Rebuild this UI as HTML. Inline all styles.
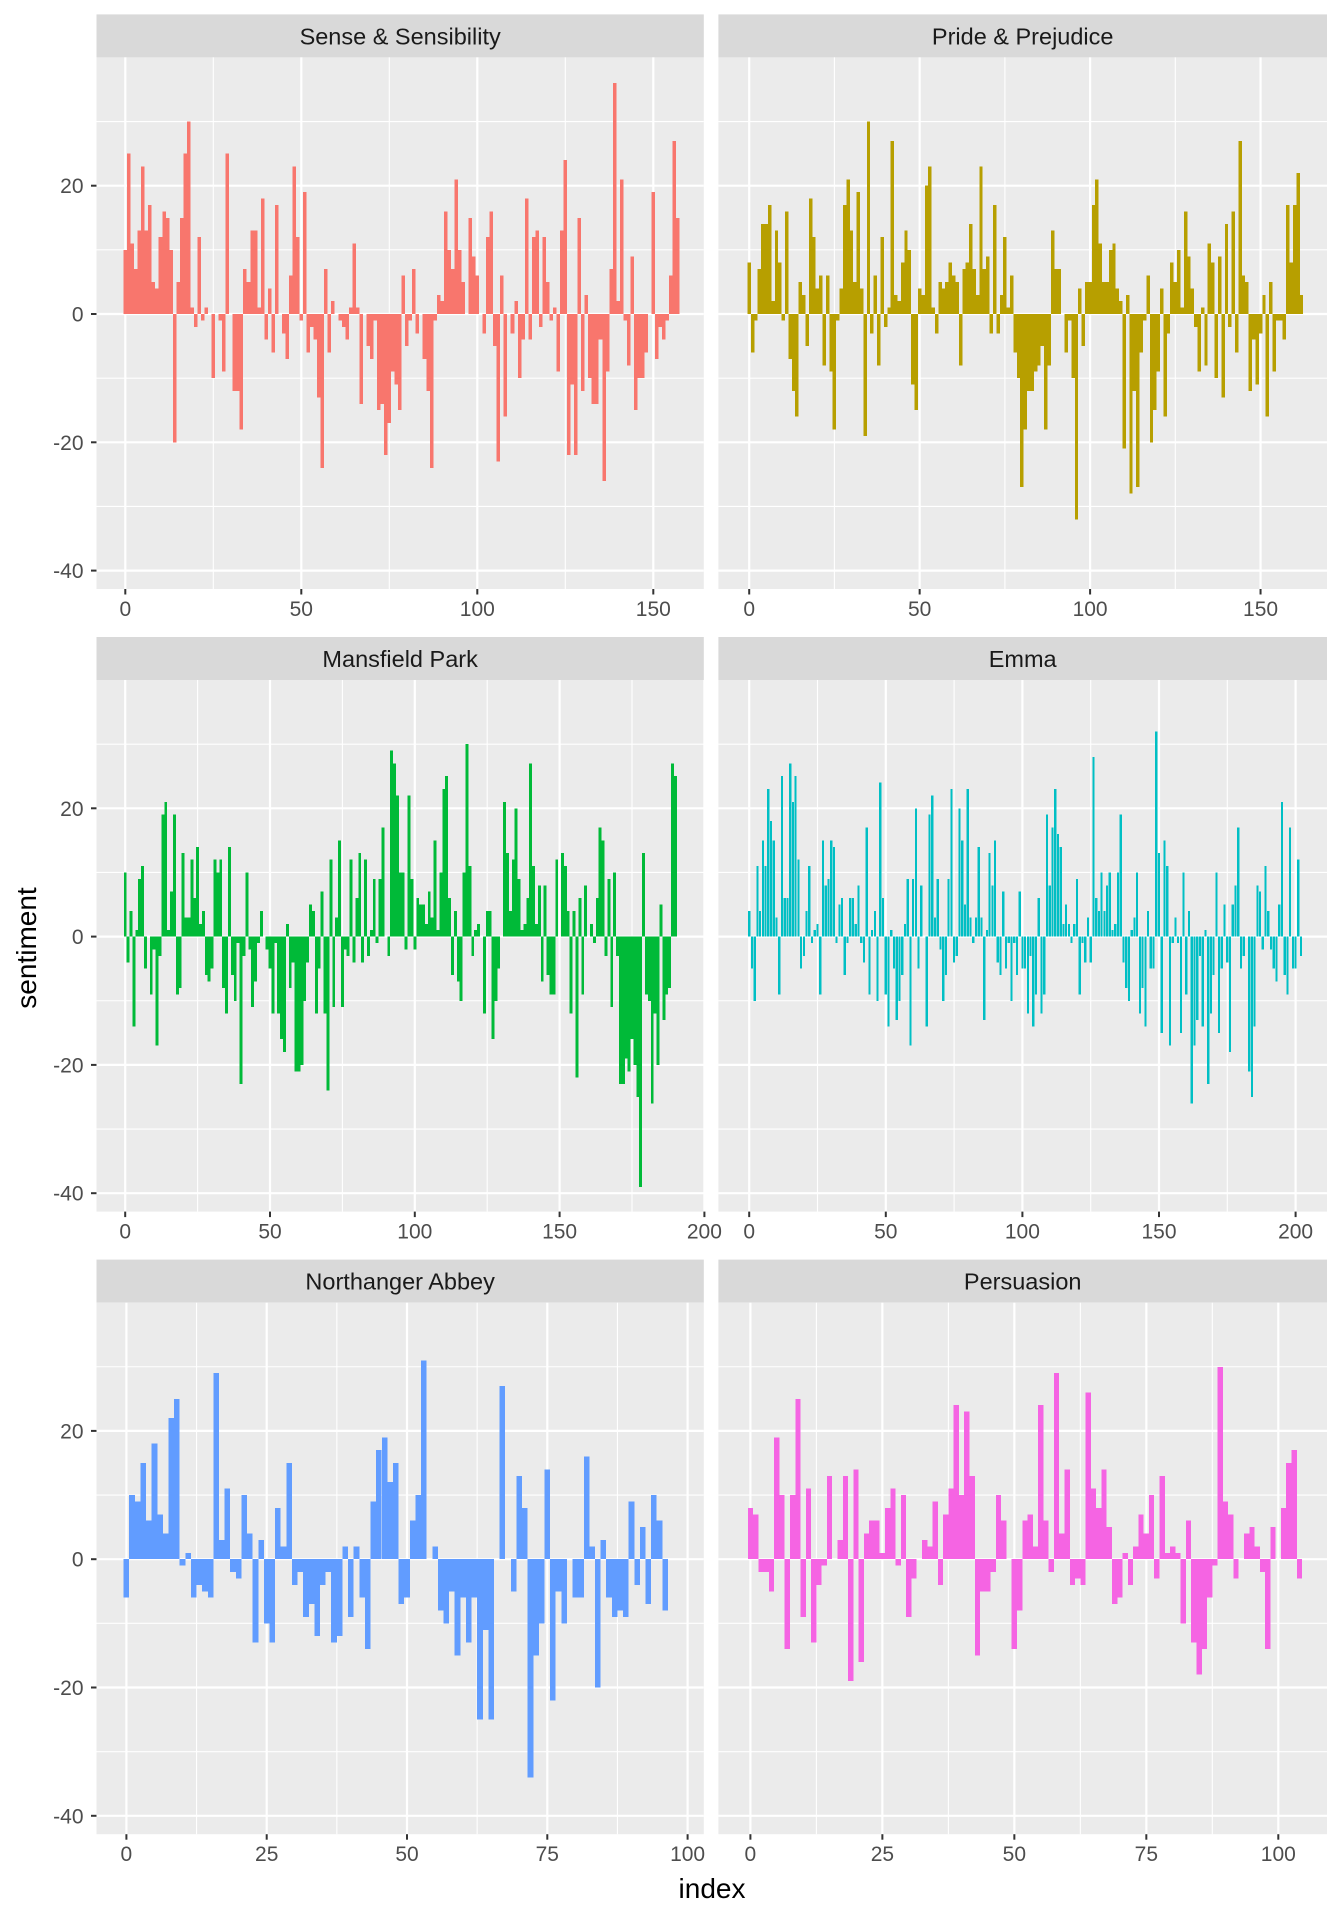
<!DOCTYPE html>
<html><head><meta charset="utf-8"><style>
html,body{margin:0;padding:0;background:#fff;}
svg{display:block;font-family:"Liberation Sans",Arial,sans-serif;}
</style></head><body>
<svg id="s" xmlns="http://www.w3.org/2000/svg" width="1344" height="1920" viewBox="0 0 1344 1920">
<rect width="1344" height="1920" fill="#fff"/>
<text x="0" y="0" transform="translate(36,948) rotate(-90)" text-anchor="middle" font-size="28" fill="#000">sentiment</text>
<text x="712" y="1898" text-anchor="middle" font-size="28" fill="#000">index</text>
</svg>
<script>
var D={
ss:[10,25,11,7,13,23,13,17,5,4,12,16,15,10,-20,5,15,25,30,1,-2,12,-1,1,0,-10,0,-1,-9,25,0,-12,-12,-18,7,5,13,13,1,18,-4,4,-6,17,0,-3,-7,6,23,12,-1,19,-6,-2,-4,-13,-24,7,-6,2,0,-1,-2,-4,1,11,1,-14,0,-5,-7,-1,-15,-14,-22,-17,-9,-11,-15,6,-5,-1,7,-3,0,-7,-12,-24,-1,3,2,16,10,7,21,10,5,0,15,9,6,0,-3,12,16,-5,-23,6,-16,0,-3,2,-10,-4,18,-4,12,13,-2,12,5,-1,1,-9,13,24,-22,-11,-22,15,-12,3,-10,-14,-14,-4,-26,-9,7,36,2,21,-1,-8,9,-15,-10,-10,-6,0,19,-7,-2,-4,-1,6,27,15],
pp:[8,-6,-1,7,14,14,17,2,13,8,-1,16,-7,-12,-16,5,3,-5,18,12,4,6,-8,6,-9,-18,-1,4,17,21,13,5,19,4,-19,30,-3,6,-8,12,-2,1,27,3,2,8,13,10,-11,-15,4,3,20,23,1,-3,5,4,5,8,6,5,-8,7,8,14,7,3,23,7,9,-3,17,-3,3,12,1,6,-6,-10,-27,-18,-12,-12,-9,-8,-5,-18,-8,13,7,7,0,-6,-1,-10,-32,4,-5,5,5,17,21,11,5,5,10,11,4,2,-21,3,-28,-12,-27,-6,-1,6,-20,-15,-9,4,-16,-3,8,5,10,1,16,9,4,-2,-9,1,-8,11,8,-10,9,-13,14,-2,16,-6,27,6,5,-12,-4,-11,-3,3,-16,5,-9,-1,-1,-4,17,8,17,22,3],
mp:[10,-4,4,-14,1,9,11,-5,0,-9,-2,-17,-3,19,21,1,7,19,-9,-8,13,3,3,12,6,14,2,4,-6,-7,-5,12,10,12,-8,-12,14,-6,-10,-1,-23,-3,10,-2,-11,-7,-1,4,0,-2,-5,-12,-1,-12,-16,-18,2,-8,-4,-21,-21,-20,-10,-4,5,4,-12,-5,7,-12,-24,12,-11,3,15,-11,-2,-3,12,-4,6,13,-4,12,-3,1,9,-1,9,17,0,-3,29,27,22,10,10,-2,22,9,-2,6,5,5,2,7,3,15,1,10,23,25,6,-6,4,-7,-10,10,30,11,-3,1,2,0,-12,4,4,-16,-10,-5,0,21,13,4,12,20,9,1,2,6,27,11,2,8,-7,8,-6,-9,-9,12,0,13,11,4,-12,4,-22,6,-9,8,0,2,-1,6,17,15,-3,9,-11,10,-3,-23,-23,-19,-21,-16,-20,-25,-39,13,-9,-10,-26,-12,-20,5,-13,-9,-8,27,25],
em:[4,-5,-10,11,4,15,11,23,18,15,3,-9,25,6,6,27,21,25,12,-5,-3,4,11,-1,1,2,-9,15,8,9,15,14,-1,5,6,-6,-1,6,6,2,8,-1,-4,17,-9,1,4,-10,24,6,-9,-14,1,-5,-13,-10,-6,2,9,-17,9,20,-5,8,0,-14,19,22,3,9,-2,-10,-6,9,23,-4,-3,20,15,5,23,3,-1,3,14,3,-13,1,13,8,15,-4,-6,7,-5,-1,-10,-1,-6,7,-5,-5,-12,-3,-14,-9,6,-12,-9,19,8,17,23,16,14,2,5,2,-1,2,9,-9,-1,-4,3,-4,28,6,4,10,4,8,10,1,2,10,19,-4,-8,-10,1,3,10,-12,-8,-14,4,-5,-5,32,13,-15,15,11,-17,-1,3,-1,-15,10,-9,4,-26,-17,-13,-3,-14,1,-23,-12,-6,10,-15,-5,5,-4,-18,5,8,17,-5,-3,0,-21,-25,-14,8,7,-2,11,4,-2,-5,-7,5,21,-6,-9,17,-5,-5,12,-3],
na:[-6,10,9,15,6,18,7,4,22,25,-1,1,-6,-4,-5,-6,29,3,11,-2,-3,10,4,-13,3,-10,-13,8,2,15,-4,-2,-9,-7,-12,-4,-2,-13,-12,2,-9,2,-6,-14,9,17,19,12,15,-7,-6,6,10,31,0,2,-8,-10,-5,-15,-6,-13,-6,-25,-11,-25,0,27,0,-5,13,8,-34,-15,-10,14,-22,-5,-10,0,-6,-6,16,2,-20,3,-6,-9,-8,-9,9,-4,5,-7,10,6,-8],
pe:[8,7,-2,-2,-5,19,10,-14,10,25,-9,11,-13,-4,-1,13,0,3,13,-19,14,-16,4,6,6,1,8,11,-1,10,-9,-3,0,3,2,9,-4,7,11,24,10,23,13,-15,-5,-5,-2,10,6,0,-14,-8,6,7,2,24,6,-2,29,4,14,-4,-3,-4,26,11,8,14,5,-7,-6,1,-4,2,7,4,10,-3,13,1,2,1,-10,6,-13,-18,-14,-6,-1,30,9,7,-3,0,4,5,2,-2,-14,5,0,8,15,17,-3]
};
var C={ss:"#F8766D",pp:"#B79F00",mp:"#00BA38",em:"#00BFC4",na:"#619CFF",pe:"#F564E3"};
var P=[
 {k:"ss",t:"Sense & Sensibility",c:0,r:0,x0:125.3,s:3.52,bw:1,maj:[0,50,100,150],min:[25,75,125]},
 {k:"pp",t:"Pride & Prejudice",c:1,r:0,x0:749.2,s:3.409,bw:1,maj:[0,50,100,150],min:[25,75,125]},
 {k:"mp",t:"Mansfield Park",c:0,r:1,x0:125.2,s:2.896,bw:1,maj:[0,50,100,150,200],min:[25,75,125,175]},
 {k:"em",t:"Emma",c:1,r:1,x0:749.2,s:2.732,bw:0.8,maj:[0,50,100,150,200],min:[25,75,125,175]},
 {k:"na",t:"Northanger Abbey",c:0,r:2,x0:126.4,s:5.612,bw:1,maj:[0,25,50,75,100],min:[12.5,37.5,62.5,87.5]},
 {k:"pe",t:"Persuasion",c:1,r:2,x0:750.4,s:5.279,bw:1,maj:[0,25,50,75,100],min:[12.5,37.5,62.5,87.5]}
];
var L=[[96.5,703.8],[718.4,1327]];
var h="";
P.forEach(function(p){
 var xl=L[p.c][0],xr=L[p.c][1],T=57.4+622.6*p.r,B=T+531.6,z=T+256.6,u=6.415;
 h+='<rect x="'+xl+'" y="'+(T-43)+'" width="'+(xr-xl)+'" height="43" fill="#d9d9d9"/>';
 h+='<text x="'+((xl+xr)/2)+'" y="'+(T-13)+'" text-anchor="middle" font-size="23.5" fill="#1a1a1a">'+p.t.replace("&","&amp;")+'</text>';
 h+='<rect x="'+xl+'" y="'+T+'" width="'+(xr-xl)+'" height="531.6" fill="#ebebeb"/>';
 [30,10,-10,-30].forEach(function(v){var y=z-v*u;h+='<line x1="'+xl+'" x2="'+xr+'" y1="'+y+'" y2="'+y+'" stroke="#fff" stroke-width="1.1"/>';});
 p.min.forEach(function(v){var x=p.x0+v*p.s;if(x<xr)h+='<line x1="'+x+'" x2="'+x+'" y1="'+T+'" y2="'+B+'" stroke="#fff" stroke-width="1.1"/>';});
 [20,0,-20,-40].forEach(function(v){var y=z-v*u;h+='<line x1="'+xl+'" x2="'+xr+'" y1="'+y+'" y2="'+y+'" stroke="#fff" stroke-width="2.2"/>';
   if(p.c==0){h+='<line x1="'+(xl-5.5)+'" x2="'+xl+'" y1="'+y+'" y2="'+y+'" stroke="#333" stroke-width="2"/>';
   h+='<text x="'+(xl-13)+'" y="'+(y+7.5)+'" text-anchor="end" font-size="21" fill="#4d4d4d">'+v+'</text>';}});
 p.maj.forEach(function(v){var x=p.x0+v*p.s;if(x<xr+3){h+='<line x1="'+x+'" x2="'+x+'" y1="'+T+'" y2="'+B+'" stroke="#fff" stroke-width="2.2"/>';
   h+='<line x1="'+x+'" x2="'+x+'" y1="'+B+'" y2="'+(B+5.5)+'" stroke="#333" stroke-width="2"/>';
   h+='<text x="'+x+'" y="'+(B+27)+'" text-anchor="middle" font-size="21" fill="#4d4d4d">'+v+'</text>';}});
 var d=D[p.k],w=p.s*p.bw,path="";
 d.forEach(function(v,i){if(!v)return;var x=p.x0+i*p.s-w/2;var y=v>0?z-v*u:z;path+='M'+x.toFixed(2)+' '+y.toFixed(2)+'h'+w.toFixed(2)+'v'+(Math.abs(v)*u).toFixed(2)+'h'+(-w).toFixed(2)+'z';});
 h+='<path d="'+path+'" fill="'+C[p.k]+'" shape-rendering="crispEdges"/>';
});
var s=document.getElementById("s");
s.insertAdjacentHTML("beforeend",h);
</script>
</body></html>
